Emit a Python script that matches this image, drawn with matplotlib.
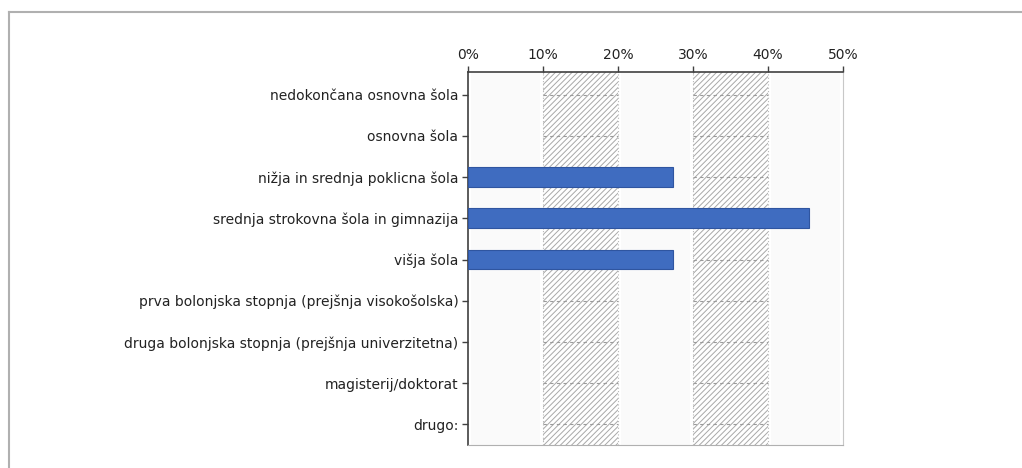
import numpy as np
import matplotlib
matplotlib.use("Agg")
import matplotlib.pyplot as plt
from matplotlib.lines import Line2D

# ------------------------
# DATA
# ------------------------

categories = [
    "nedokončana osnovna šola",
    "osnovna šola",
    "nižja in srednja poklicna šola",
    "srednja strokovna šola in gimnazija",
    "višja šola",
    "prva bolonjska stopnja (prejšnja visokošolska)",
    "druga bolonjska stopnja (prejšnja univerzitetna)",
    "magisterij/doktorat",
    "drugo:",
]
shares = [0.0, 0.0, 27.3, 45.5, 27.3, 0.0, 0.0, 0.0, 0.0]
x_ticks = [0, 10, 20, 30, 40, 50]
x_tick_labels = ["0%", "10%", "20%", "30%", "40%", "50%"]

plt.rcParams["hatch.linewidth"] = 0.7
plt.rcParams["hatch.color"] = "#a8a8a8"

# ------------------------
# FIGURE
# ------------------------

fig = plt.figure(figsize=(10.22, 4.68), dpi=100)
ax = fig.add_axes([468 / 1022, 1 - 445 / 468, 375 / 1022, 373 / 468])

# outer frame (top and left edges only)
fig.add_artist(Line2D([9 / 1022, 1], [1 - 12 / 468] * 2, color="#b0b0b0", lw=1.5))
fig.add_artist(Line2D([9 / 1022] * 2, [0, 1 - 12 / 468], color="#b0b0b0", lw=1.5))

y = np.arange(len(categories))

# alternating bands
for i in range(len(x_ticks) - 1):
    lo, hi = x_ticks[i], x_ticks[i + 1]
    if i % 2 == 1:
        ax.axvspan(lo, hi, facecolor="white", hatch="//////", edgecolor="#a8a8a8", lw=0, zorder=0)
        ax.hlines(y, lo, hi, colors="#9a9a9a", linestyles=(0, (3, 3)), lw=0.8, zorder=1)
    else:
        ax.axvspan(lo + 0.4, hi - 0.4, facecolor="#fafafa", lw=0, zorder=0)

for t in x_ticks[1:-1]:
    ax.axvline(t, color="#b8b8b8", lw=0.8, ls=(0, (1, 2)), zorder=1)

edge_widths = [0.8 if v > 0 else 0 for v in shares]
ax.barh(y, shares, height=0.48, color="#3f6cc0", edgecolor="#2f55a0", lw=edge_widths, zorder=3)

ax.set_xlim(0, 50)
ax.set_ylim(len(categories) - 0.5, -0.55)

ax.xaxis.tick_top()
ax.set_xticks(x_ticks)
ax.set_xticklabels(x_tick_labels)
ax.set_yticks(y)
ax.set_yticklabels(categories)
ax.tick_params(axis="x", length=4, width=1, color="#404040", labelsize=10, pad=3, labelcolor="#222222")
ax.tick_params(axis="y", length=4, width=1, color="#404040", labelsize=10, pad=3, labelcolor="#222222")

ax.spines["left"].set_color("#404040")
ax.spines["top"].set_color("#404040")
ax.spines["left"].set_linewidth(1.2)
ax.spines["top"].set_linewidth(1.2)
ax.spines["right"].set_color("#c8c8c8")
ax.spines["bottom"].set_color("#b0b0b0")

fig.savefig("out.png", dpi=100)
